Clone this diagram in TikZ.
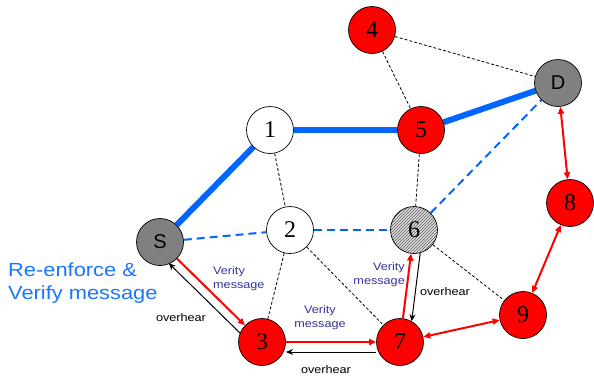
\documentclass[tikz,border=0pt]{standalone}
\usepackage{fontspec}
\setmainfont{Liberation Serif}
\newfontfamily\lblfont[FakeStretch=1.15]{Liberation Sans}
\newfontfamily\sansfont{Liberation Sans}
\usetikzlibrary{calc,patterns,arrows.meta}
\pgfdeclarelayer{bg}
\pgfsetlayers{bg,main}
\definecolor{thickblue}{RGB}{0,102,255}
\definecolor{navy}{RGB}{51,51,153}
\definecolor{txtblue}{RGB}{26,117,255}
\begin{document}
\begin{tikzpicture}[x=1pt,y=-1pt,
  vtx/.style={circle,draw=black,line width=0.7pt,minimum size=47pt,inner sep=0pt,font=\fontsize{24}{24}\selectfont},
  rednode/.style={vtx,fill=red},
  graynode/.style={vtx,fill=black!50,font=\sansfont\fontsize{20}{20}\selectfont},
  whitenode/.style={vtx,fill=white},
  hatchnode/.style={vtx,preaction={fill=black!12},pattern=north east lines,pattern color=black!65},
  route/.style={thickblue,line width=6pt},
  alt/.style={thickblue,line width=2pt,dash pattern=on 8pt off 5pt},
  link/.style={black,line width=0.8pt,dash pattern=on 3pt off 2pt},
  msg/.style={red,line width=2pt,-{Triangle[length=7pt,width=6pt]}},
  ovh/.style={black,line width=1pt,-{Stealth[length=7pt,width=6pt]}},
  both/.style={red,line width=2pt,{Triangle[length=7pt,width=6pt]}-{Triangle[length=7pt,width=6pt]}},
  lbl/.style={font=\lblfont\fontsize{11}{14}\selectfont,align=center,inner sep=0pt},
]
\useasboundingbox (0,0) rectangle (594,381);

% nodes
\node[graynode] (S) at (160,242) {S};
\node[whitenode] (n1) at (270,130) {1};
\node[whitenode] (n2) at (290,230) {2};
\node[rednode] (n3) at (262,342) {3};
\node[rednode] (n4) at (372,30) {4};
\node[rednode] (n5) at (421,130) {5};
\node[hatchnode] (n6) at (414,230) {6};
\node[rednode] (n7) at (400,342) {7};
\node[rednode] (n8) at (570,203) {8};
\node[rednode] (n9) at (523,315) {9};
\node[graynode] (D) at (558,83) {D};

\begin{pgfonlayer}{bg}
% route
\draw[route] (S) -- (n1);
\draw[route] (n1) -- (n5);
\draw[route] (n5) -- (D);
% alternative route
\draw[alt] (S) -- (n2);
\draw[alt] (n2) -- (n6);
\draw[alt] (n6) -- (D);
% links
\draw[link] (n1) -- (n2);
\draw[link] (n2) -- (n3);
\draw[link] (n2) -- (n7);
\draw[link] (n4) -- (n5);
\draw[link] (n4) -- (D);
\draw[link] (n5) -- (n6);
\draw[link] (n6) -- (n9);
\end{pgfonlayer}

% red two-way
\draw[both] (D) -- (n8);
\draw[both] (n8) -- (n9);
\draw[both] (n9) -- (n7);

% verify messages
\draw[msg] (S) -- (n3);
\draw[msg] (n3) -- (n7);
\draw[msg] (n7) -- (n6);

% overhear
\draw[ovh,shorten <=21pt,shorten >=21pt] ($(n3)!9pt!90:(S)$) -- ($(S)!9pt!-90:(n3)$);
\draw[ovh,shorten <=24pt,shorten >=24pt] ($(n7)!10pt!90:(n3)$) -- ($(n3)!10pt!-90:(n7)$);
\draw[ovh,shorten <=22pt,shorten >=22pt] ($(n6)!9pt!90:(n7)$) -- ($(n7)!9pt!-90:(n6)$);

% labels
\node[lbl,navy,align=left,anchor=west] (v1) at (213,279) {Verity\\message};
\node[lbl] (o1) at (181,318) {overhear};
\node[lbl,navy] (v2) at (320,318) {Verity\\message};
\node[lbl] (o2) at (326,370) {overhear};
\node[lbl,navy,align=right,anchor=east] (v3) at (405,275) {Verity\\message};
\node[lbl] (o3) at (445,292) {overhear};
\node[font=\lblfont\fontsize{19}{23}\selectfont,text=txtblue,align=left,anchor=west,inner sep=0pt] (re) at (8,283) {Re-enforce \&\\Verify message};
\end{tikzpicture}
\end{document}
